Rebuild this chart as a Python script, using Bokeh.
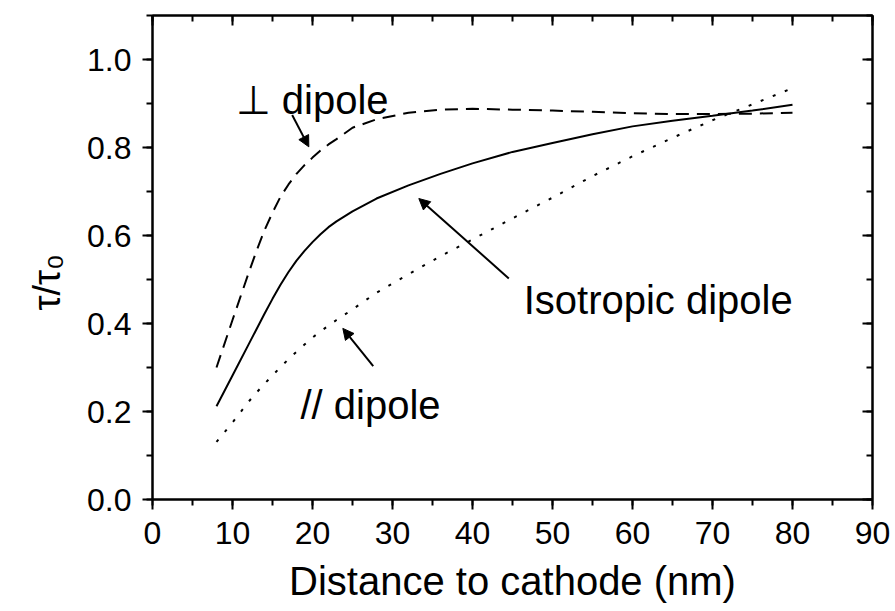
from bokeh.plotting import figure
from bokeh.models import (Range1d, LinearAxis, SingleIntervalTicker, NumeralTickFormatter,
                          CustomJSTickFormatter, Arrow, NormalHead, Label, Title)
from bokeh.embed import file_html
from bokeh.resources import INLINE

# distance to cathode (nm)
distance = [8, 10, 12, 13, 14, 15, 16, 17, 18, 19, 20, 21, 22, 23, 25, 28, 32, 36, 40,
            45, 50, 55, 60, 65, 70, 75, 80]
# normalised lifetime tau/tau0 for each dipole orientation
perp_dipole = [0.300, 0.408, 0.514, 0.565, 0.612, 0.652, 0.688, 0.716, 0.740, 0.760, 0.777,
               0.793, 0.807, 0.819, 0.845, 0.864, 0.879, 0.886, 0.888, 0.886, 0.884, 0.881,
               0.878, 0.876, 0.876, 0.877, 0.879]
iso_dipole = [0.212, 0.282, 0.352, 0.387, 0.422, 0.456, 0.488, 0.517, 0.543, 0.565, 0.585,
              0.603, 0.619, 0.632, 0.655, 0.684, 0.714, 0.740, 0.764, 0.790, 0.810, 0.830,
              0.848, 0.861, 0.872, 0.884, 0.897]
par_dipole = [0.131, 0.175, 0.222, 0.243, 0.263, 0.282, 0.301, 0.319, 0.336, 0.352, 0.368,
              0.382, 0.395, 0.408, 0.432, 0.470, 0.512, 0.553, 0.591, 0.639, 0.686, 0.735,
              0.780, 0.822, 0.862, 0.898, 0.935]

FONT = "Liberation Sans"

p = figure(width=895, height=611, x_range=Range1d(0, 90), y_range=Range1d(0, 1.1),
           output_backend="svg", toolbar_location=None,
           min_border_left=152, min_border_right=23, min_border_top=15, min_border_bottom=112)
p.grid.visible = False
p.outline_line_color = "black"
p.outline_line_width = 2
p.background_fill_color = "white"
p.border_fill_color = "white"

xa = p.xaxis[0]
xa.ticker = SingleIntervalTicker(interval=10, num_minor_ticks=2)
xa.axis_label = "Distance to cathode (nm)"
xa.axis_label_text_font = FONT
xa.axis_label_text_font_size = "40px"
xa.axis_label_text_font_style = "normal"
xa.axis_label_text_color = "black"
xa.axis_label_standoff = 12
xa.major_label_standoff = 12

ya = p.yaxis[0]
ya.ticker = SingleIntervalTicker(interval=0.2, num_minor_ticks=2)
ya.formatter = NumeralTickFormatter(format="0.0")
ya.major_label_standoff = 11

for ax in (xa, ya):
    ax.axis_line_width = 2
    ax.axis_line_color = "black"
    ax.major_tick_line_width = 2
    ax.minor_tick_line_width = 2
    ax.major_tick_out = 10
    ax.major_tick_in = 0
    ax.minor_tick_out = 6
    ax.minor_tick_in = 0
    ax.major_label_text_font = FONT
    ax.major_label_text_font_size = "32px"
    ax.major_label_text_color = "black"

# mirrored axes on top and right with inward ticks
blank = CustomJSTickFormatter(code="return ''")
top = LinearAxis(ticker=SingleIntervalTicker(interval=10, num_minor_ticks=2), formatter=blank)
right = LinearAxis(ticker=SingleIntervalTicker(interval=0.2, num_minor_ticks=2), formatter=blank)
for ax in (top, right):
    ax.axis_line_width = 2
    ax.major_tick_line_width = 2
    ax.minor_tick_line_width = 2
    ax.major_tick_in = 10
    ax.major_tick_out = 0
    ax.minor_tick_in = 6
    ax.minor_tick_out = 0
    ax.major_label_standoff = 0
    ax.major_label_text_font_size = "0px"
p.add_layout(top, "above")
p.add_layout(right, "right")

# y-axis title, set in the left panel
p.add_layout(Title(text="τ/τ₀", align="left", offset=189, standoff=30, vertical_align="top",
                   text_font=FONT, text_font_size="38px", text_font_style="normal",
                   text_color="black"), "left")

p.line(distance, perp_dipole, line_color="black", line_width=2, line_dash="13 8")
p.line(distance, iso_dipole, line_color="black", line_width=2)
p.line(distance, par_dipole, line_color="black", line_width=2, line_dash="3 10")

def note(x, y, text):
    p.add_layout(Label(x=x, y=y, text=text, text_font=FONT, text_font_size="40px",
                       text_color="black", text_align="left", text_baseline="alphabetic"))

def pointer(x0, y0, x1, y1):
    p.add_layout(Arrow(end=NormalHead(size=11, fill_color="black", line_color="black", line_width=1),
                       x_start=x0, y_start=y0, x_end=x1, y_end=y1,
                       line_color="black", line_width=2))

note(10.4, 0.908, "⊥ dipole")
pointer(17.46, 0.874, 19.54, 0.8015)

note(46.4, 0.4534, "Isotropic dipole")
pointer(44.54, 0.5025, 33.29, 0.684)

note(18.5, 0.2144, "// dipole")
pointer(27.59, 0.3031, 23.79, 0.3889)

open("out.html", "w").write(file_html(p, INLINE))
